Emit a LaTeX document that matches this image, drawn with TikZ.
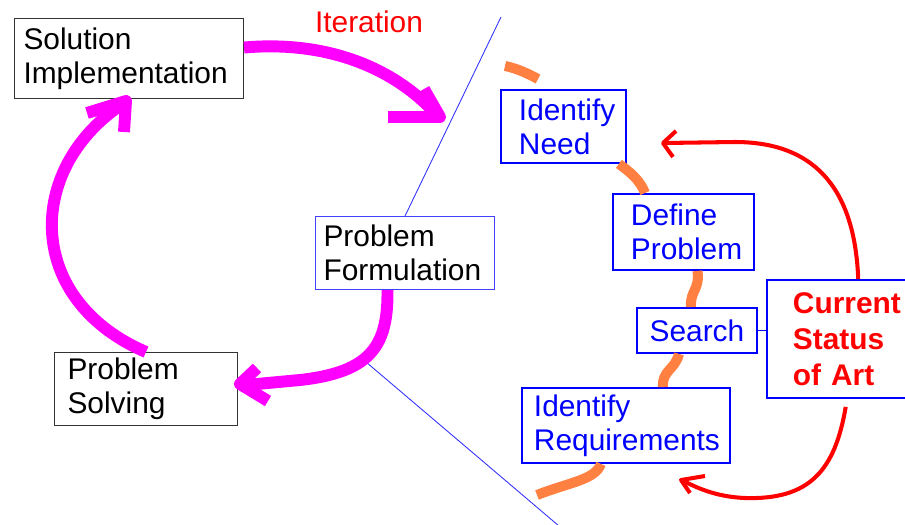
\documentclass[tikz,border=0pt]{standalone}
\usepackage{fontspec}
\setmainfont{Liberation Sans}
\definecolor{penorange}{RGB}{255,128,64}
\definecolor{penmagenta}{RGB}{255,0,255}
\tikzset{
    box/.style = {rectangle, anchor=north west, align=left, inner ysep=0pt, font=\fontsize{17}{19.5}\selectfont},
    plain/.style = {box, draw=black!80, line width=0.6pt},
    task/.style = {box, draw=blue, line width=1.1pt, text=blue},
    pen/.style = {penmagenta, line width=6.8pt, line join=round},
    marker/.style = {penorange, line width=5.7pt},
    redpen/.style = {red, line width=2.3pt, line join=round},
    guide/.style = {blue!80, line width=0.5pt}
}

\begin{document}
\begin{tikzpicture}[x=0.02cm, y=-0.02cm]
        \useasboundingbox (0,0) rectangle (905,524);
        % dividing lines
        \coordinate (cut-top) at (501,17);
        \coordinate (cut-mid) at (366,362);
        \coordinate (cut-bot) at (559,526);
        \draw[guide] (cut-mid) -- (cut-bot);

        % place boxes on the left
        \node[plain, minimum height=1.6cm, text width=4.22cm, inner xsep=0.18cm] (sol) at (14,18) {Solution\\Implementation};
        \node[plain, minimum height=1.46cm, text width=3.14cm, inner xsep=0.26cm] (solv) at (54,352) {Problem\\Solving};
        \node[plain, draw=blue!75, minimum height=1.46cm, text width=3.26cm, inner xsep=0.16cm] (form) at (315,216) {Problem\\Formulation};
        \node[text=red, font=\fontsize{17}{19.5}\selectfont] (iter) at (369,22) {Iteration};
        \draw[guide] (form.north) -- (cut-top);

        % place boxes on the right
        \node[task, minimum height=1.46cm, text width=1.78cm, inner xsep=0.36cm] (need) at (500,89) {Identify\\Need};
        \node[task, minimum height=1.52cm, text width=2.10cm, inner xsep=0.36cm] (def) at (612,193) {Define\\Problem};
        \node[task, align=center, minimum height=0.9cm, minimum width=2.4cm, inner xsep=0pt] (srch) at (636,307) {Search};
        \node[task, minimum height=1.5cm, text width=3.68cm, inner xsep=0.24cm] (req) at (521,387) {Identify\\Requirements};
        \node[task, text=red, font=\fontsize{17}{20.5}\selectfont\bfseries, minimum height=2.36cm, text width=1.91cm, inner xsep=0.52cm] (art) at (766,279) {Current\\Status\\of Art};
        \draw[blue, line width=1.1pt] (srch.east) -- (srch.east -| art.west);

        % draw magenta cycle
        \draw[pen] ([yshift=0.22cm]sol.east) .. controls (330,40) and (395,70) .. (434,112);
        \draw[pen] (388,117) -- (440,117) -- (424,89);
        \draw[pen] (solv.north) .. controls (25,300) and (25,170) .. (121,105);
        \draw[pen] (87,113) -- (126,101) -- (124,132);
        \draw[pen] ([xshift=-0.35cm]form.south) .. controls (388,345) and (372,372) .. (300,380) -- (246,385);
        \draw[pen] (257,368) -- (240,384) -- (268,401);

        % draw orange steps
        \draw[marker] (505,66) .. controls (515,68) and (525,72) .. (538,79);
        \draw[marker] ([xshift=-0.16cm]need.south east) .. controls (630,172) and (640,180) .. ([xshift=0.66cm]def.north west);
        \draw[marker] ([xshift=0.28cm]def.south) .. controls (700,290) and (690,290) .. ([xshift=-0.12cm]srch.north);
        \draw[marker] ([xshift=-0.36cm]srch.south) .. controls (675,370) and (662,370) .. ([xshift=0.74cm]req.north);
        \draw[marker] ([xshift=-0.5cm]req.south) .. controls (595,480) and (570,482) .. (537,495);

        % draw red feedback
        \draw[redpen] ([xshift=0.35cm]art.north) .. controls (855,195) and (820,142) .. (735,142) -- (664,143);
        \draw[redpen] (676,131) -- (663,143) -- (673,157);
        \draw[redpen] ([xshift=0.1cm, yshift=-0.16cm]art.south) .. controls (835,470) and (810,500) .. (745,498) .. controls (720,497) and (700,490) .. (682,480);
        \draw[redpen] (705,476) -- (681,480) -- (690,493);
    \end{tikzpicture}
\end{document}
